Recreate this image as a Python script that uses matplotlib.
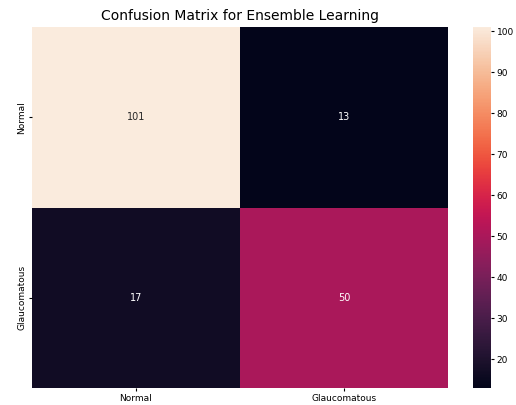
import matplotlib
matplotlib.use("Agg")
import matplotlib.pyplot as plt
import seaborn as sns
import numpy as np

labels = ["Normal", "Glaucomatous"]
row_normal = [101, 13]
row_glauc = [17, 50]
cm = np.array([row_normal, row_glauc])

fig = plt.figure(figsize=(5.16, 4.05), dpi=100)
ax = fig.add_axes([32/516, 1-388/405, (448-32)/516, (388-27)/405])
cax = fig.add_axes([473/516, 1-388/405, (491-473)/516, (388-27)/405])
sns.heatmap(cm, annot=True, fmt="d", xticklabels=labels, yticklabels=labels,
            ax=ax, cbar_ax=cax, annot_kws={"fontsize": 7})
ax.set_title("Confusion Matrix for Ensemble Learning", fontsize=10, pad=5)
ax.tick_params(labelsize=6.5, length=2.5, pad=1.5)
cax.tick_params(labelsize=6.5, length=2.5, pad=1.5)
fig.savefig("out.png", dpi=100)
